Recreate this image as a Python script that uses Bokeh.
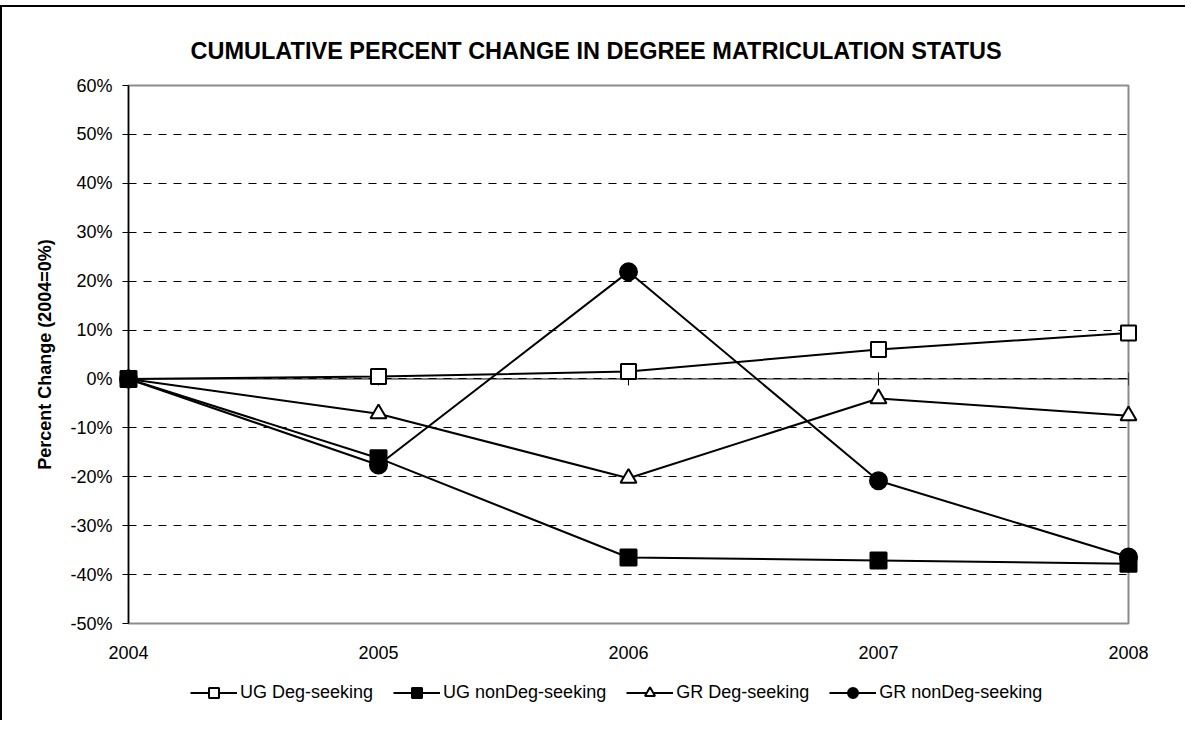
import numpy as np
from bokeh.plotting import figure
from bokeh.layouts import column
from bokeh.models import (Range1d, FixedTicker, PrintfTickFormatter, Span,
                          Legend, LegendItem)
from bokeh.embed import file_html
from bokeh.resources import INLINE

# ---- data ----
years = [2004, 2005, 2006, 2007, 2008]
ug_deg = [0.0, 0.5, 1.5, 6.0, 9.4]
ug_nondeg = [0.0, -16.2, -36.5, -37.1, -37.8]
gr_deg = [0.0, -7.1, -20.3, -4.0, -7.5]
gr_nondeg = [0.0, -17.6, 21.9, -20.8, -36.4]
y_ticks = [-50, -40, -30, -20, -10, 0, 10, 20, 30, 40, 50, 60]
series_names = ["UG Deg-seeking", "UG nonDeg-seeking", "GR Deg-seeking", "GR nonDeg-seeking"]
title_text = "CUMULATIVE PERCENT CHANGE IN DEGREE MATRICULATION STATUS"
y_label = "Percent Change (2004=0%)"

FONT = "Liberation Sans"
W = 1185

p = figure(width=W, height=665, output_backend="svg", toolbar_location=None,
           x_range=Range1d(2004, 2008), y_range=Range1d(-50, 60),
           min_border_left=128, min_border_right=57, min_border_top=80,
           min_border_bottom=47, tools="")
p.border_fill_alpha = 0
p.background_fill_color = "white"
p.outline_line_color = "#8c8c8c"
p.outline_line_width = 2

# title
p.title.text = title_text
p.title.align = "left"
p.title.offset = 62
p.title.standoff = 44
p.title.text_font = FONT
p.title.text_font_size = "23.5px"
p.title.text_font_style = "bold"
p.title.text_color = "black"

# axes
p.xaxis.ticker = FixedTicker(ticks=years)
p.xaxis.major_label_overrides = {y: str(y) for y in years}
p.xaxis.axis_line_color = None
p.xaxis.major_tick_line_color = None
p.xaxis.minor_tick_line_color = None
p.xaxis.major_label_standoff = 16
p.xaxis.major_label_text_font = FONT
p.xaxis.major_label_text_font_size = "18px"
p.xaxis.major_label_text_color = "black"

p.yaxis.ticker = FixedTicker(ticks=y_ticks)
p.yaxis.formatter = PrintfTickFormatter(format="%d%%")
p.yaxis.axis_line_color = "black"
p.yaxis.axis_line_width = 1.5
p.yaxis.major_tick_line_color = "black"
p.yaxis.major_tick_out = 6
p.yaxis.major_tick_in = 0
p.yaxis.minor_tick_line_color = None
p.yaxis.major_label_standoff = 10
p.yaxis.major_label_text_font = FONT
p.yaxis.major_label_text_font_size = "18px"
p.yaxis.major_label_text_color = "black"
p.yaxis.axis_label = y_label
p.yaxis.axis_label_text_font = FONT
p.yaxis.axis_label_text_font_size = "18px"
p.yaxis.axis_label_text_font_style = "bold"
p.yaxis.axis_label_text_color = "black"
p.yaxis.axis_label_standoff = 12

p.xgrid.grid_line_color = None
p.ygrid.grid_line_color = "black"
p.ygrid.grid_line_dash = "8 7"
p.ygrid.grid_line_width = 1

# zero line with crossing ticks
p.add_layout(Span(location=0, dimension="width", line_color="black", line_width=1))
p.scatter(x=years, y=[0] * len(years), marker="dash", angle=np.pi / 2, size=13,
          line_color="black", line_width=1)

# series
styles = {
    series_names[0]: (ug_deg, "square", 15, "white"),
    series_names[2]: (gr_deg, "triangle", 16, "white"),
    series_names[3]: (gr_nondeg, "circle", 17, "black"),
    series_names[1]: (ug_nondeg, "square", 16, "black"),
}
for name, (data, marker, size, fill) in styles.items():
    p.line(years, data, line_color="black", line_width=2)
    p.scatter(years, data, marker=marker, size=size, fill_color=fill,
              line_color="black", line_width=2, level="overlay")

# legend strip (separate small figure under the chart; its series lie outside its view)
lg = figure(width=W, height=50, output_backend="svg", toolbar_location=None,
            x_axis_location=None, y_axis_location=None, tools="", min_border=0,
            x_range=Range1d(0, 1), y_range=Range1d(0, 1))
lg.border_fill_alpha = 0
lg.background_fill_alpha = 0
lg.outline_line_color = None
lg.grid.grid_line_color = None
items = []
for name in series_names:
    data, marker, size, fill = styles[name]
    lr = lg.line(years, data, line_color="black", line_width=2)
    sr = lg.scatter(years, data, marker=marker, fill_color=fill, line_color="black",
                    line_width=2)
    items.append(LegendItem(label=name, renderers=[lr, sr]))
legend = Legend(items=items, orientation="horizontal", location=(62, 15),
                glyph_width=47, glyph_height=25, label_height=25, label_standoff=3,
                spacing=20, padding=0, margin=0, border_line_color=None,
                background_fill_alpha=0, label_text_font=FONT,
                label_text_font_size="18px", label_text_color="black")
lg.add_layout(legend, "center")

layout = column(p, lg, spacing=0)
layout.styles = {"margin-left": "0px", "margin-top": "5px",
                 "box-shadow": "inset 2px 2px 0 0 #000", "background-color": "white"}

open("out.html", "w").write(file_html(layout, INLINE))
